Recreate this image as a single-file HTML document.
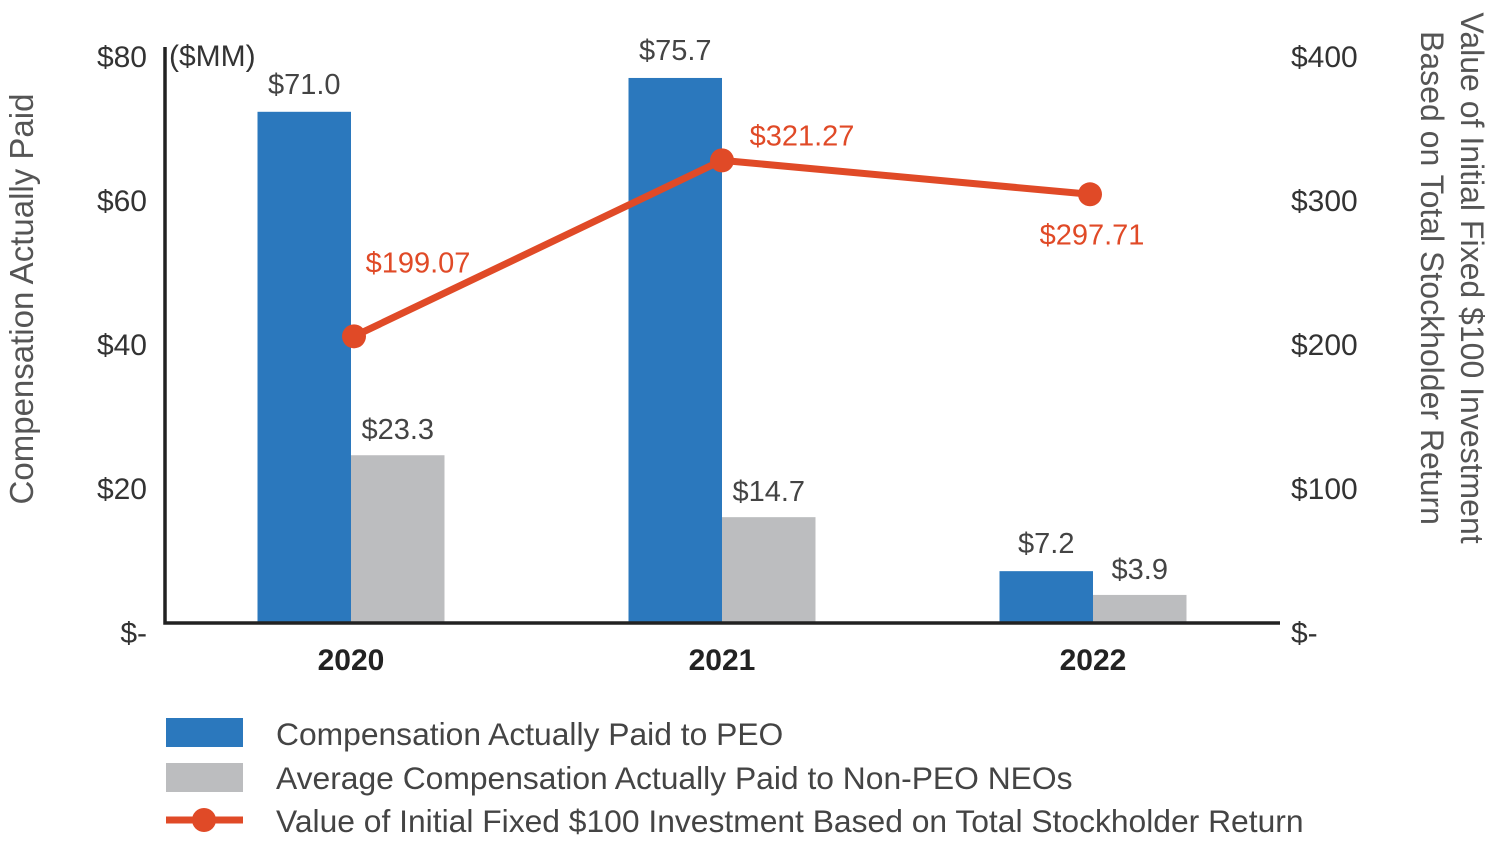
<!DOCTYPE html>
<html><head><meta charset="utf-8"><style>
html,body{margin:0;padding:0;background:#fff;}
svg{display:block;font-family:"Liberation Sans",sans-serif;}
</style></head><body>
<svg id="chart" width="1505" height="859" viewBox="0 0 1505 859">
<g id="g"></g>
</svg>
<script>
const years = ["2020","2021","2022"];
const peoValues = [71.0, 75.7, 7.2];
const neoValues = [23.3, 14.7, 3.9];
const tsrValues = [199.07, 321.27, 297.71];
const peoLabels = ["$71.0","$75.7","$7.2"];
const neoLabels = ["$23.3","$14.7","$3.9"];
const tsrLabels = ["$199.07","$321.27","$297.71"];
const leftTicks = [0,20,40,60,80];
const leftTickLabels = ["$-","$20","$40","$60","$80"];
const rightTicks = [0,100,200,300,400];
const rightTickLabels = ["$-","$100","$200","$300","$400"];

const NS="http://www.w3.org/2000/svg";
const g=document.getElementById('g');
const y0=623, yTop=47;
const yL=v=>y0-(v/80)*(y0-yTop);
const yR=v=>y0-(v/400)*(y0-yTop);
const xC=i=>351+i*371;
const bw=93.5;
function el(tag,attrs,text){const e=document.createElementNS(NS,tag);for(const k in attrs)e.setAttribute(k,attrs[k]);if(text!==undefined)e.textContent=text;g.appendChild(e);return e;}

years.forEach((yr,i)=>{
  let b=el('rect',{x:xC(i)-bw,y:yL(peoValues[i]),width:bw,height:y0-yL(peoValues[i]),fill:'#2b78bd'});
  
  
  let t=el('text',{x:xC(i)-bw/2,y:yL(peoValues[i])-18,'text-anchor':'middle','font-size':29,fill:'#444'},peoLabels[i]);
  
  
  let b2=el('rect',{x:xC(i),y:yL(neoValues[i]),width:bw,height:y0-yL(neoValues[i]),fill:'#bcbdbf'});
  
  
  let t2=el('text',{x:xC(i)+bw/2,y:yL(neoValues[i])-16,'text-anchor':'middle','font-size':29,fill:'#444'},neoLabels[i]);
  
  
  let yt=el('text',{x:xC(i),y:670,'text-anchor':'middle','font-size':30,'font-weight':'bold',fill:'#222'},yr);
  
  
});
let ax=el('path',{d:`M165 ${yTop} V${y0} H1280`,stroke:'#222','stroke-width':3.5,fill:'none'});


leftTicks.forEach((v,i)=>{
  let t=el('text',{x:147,y:yL(v)+20,'text-anchor':'end','font-size':30,fill:'#333'},leftTickLabels[i]);
  
  
});
rightTicks.forEach((v,i)=>{
  let t=el('text',{x:1291,y:yR(v)+20,'font-size':30,fill:'#333'},rightTickLabels[i]);
  
  
});
let mm=el('text',{x:169,y:66,'font-size':30,fill:'#333'},'($MM)');


const pts=tsrValues.map((v,i)=>[xC(i)+(i===0?3:(i===2?-3:0)),yR(v)]);
let ln=el('polyline',{points:pts.map(p=>p.join(',')).join(' '),stroke:'#e04a27','stroke-width':7,fill:'none'});


const off=[[64,-64],[80,-15],[2,50]];
pts.forEach((p,i)=>{
  let c=el('circle',{cx:p[0],cy:p[1],r:12,fill:'#e04a27'});
  
  
  let t=el('text',{x:p[0]+off[i][0],y:p[1]+off[i][1],'text-anchor':'middle','font-size':29,fill:'#e04a27'},tsrLabels[i]);
  
  
});
</script>
<div style="position:absolute;left:0;top:0;width:1505px;height:859px;pointer-events:none;">
<svg width="1505" height="859" style="position:absolute;left:0;top:0;font-family:'Liberation Sans',sans-serif;">
<text transform="translate(33,299) rotate(-90)" text-anchor="middle" font-size="33" fill="#555">Compensation Actually Paid</text>
<text transform="translate(1421,278) rotate(90)" text-anchor="middle" font-size="32" fill="#555">Based on Total Stockholder Return</text>
<text transform="translate(1461,278) rotate(90)" text-anchor="middle" font-size="32" fill="#555">Value of Initial Fixed $100 Investment</text>
<g>
<rect x="166" y="718" width="77" height="29" fill="#2b78bd"/>
<text x="276" y="745" font-size="31.8" fill="#444">Compensation Actually Paid to PEO</text>
<rect x="166" y="763" width="77" height="29" fill="#bcbdbf"/>
<text x="276" y="789" font-size="31.8" fill="#444">Average Compensation Actually Paid to Non-PEO NEOs</text>
<line x1="166" y1="820" x2="243" y2="820" stroke="#e04a27" stroke-width="7"/>
<circle cx="204" cy="820" r="12" fill="#e04a27"/>
<text x="276" y="832" font-size="31.8" fill="#444">Value of Initial Fixed $100 Investment Based on Total Stockholder Return</text>
</g>
</svg>
</div>
</body></html>
